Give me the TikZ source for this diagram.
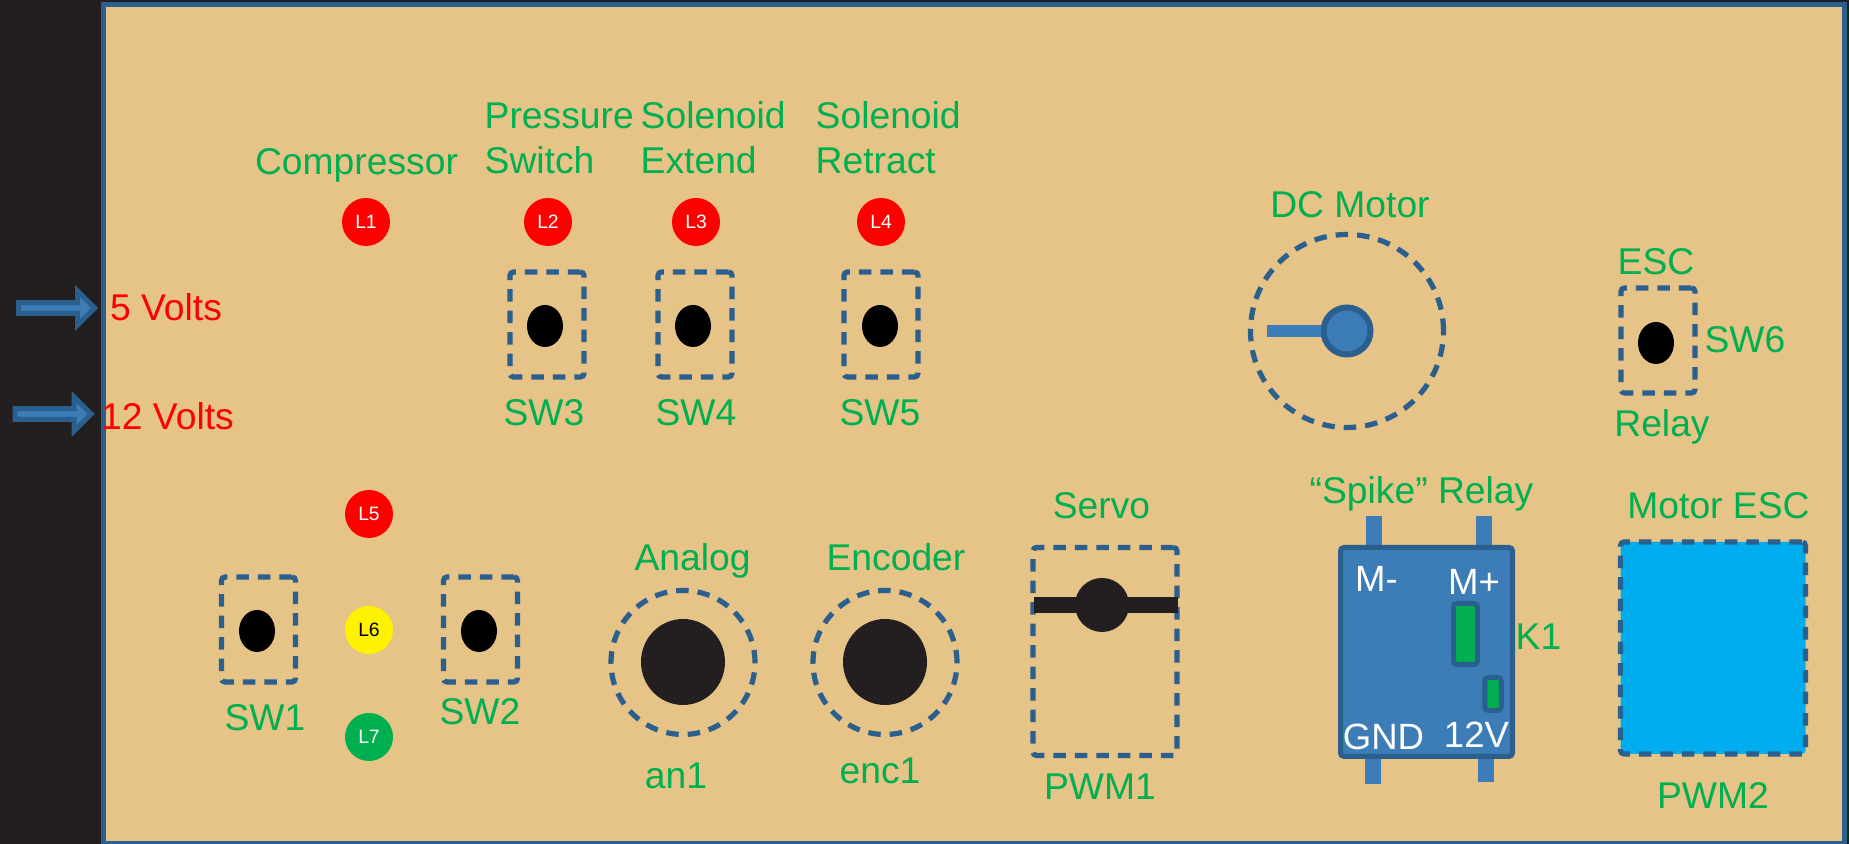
\documentclass[tikz,border=0pt]{standalone}
\usepackage{fontspec}
\setmainfont{Liberation Sans}
\usepackage{xcolor}
\usetikzlibrary{shapes.geometric, shapes.arrows}
\definecolor{panelfill}{HTML}{E6C387}
\definecolor{panelline}{HTML}{2B5F8E}
\definecolor{partblue}{HTML}{3C7DB8}
\definecolor{nearblack}{HTML}{231F20}
\definecolor{labelgreen}{HTML}{00B050}
\definecolor{escblue}{HTML}{00AEEF}
\tikzset{
  greenlabel/.style={
    anchor=base, inner sep=0pt, yshift=-0.02cm, text=labelgreen,
    font=\fontsize{10.6}{12.8}\selectfont
  },
  greenlines/.style={
    greenlabel, anchor=base west, align=left
  },
  voltlabel/.style={
    anchor=base, inner sep=0pt, yshift=-0.02cm, text=red,
    font=\fontsize{10.6}{12.8}\selectfont
  },
  relaylabel/.style={
    anchor=base, inner sep=0pt, yshift=-0.02cm, text=white,
    font=\fontsize{10.4}{12}\selectfont
  },
  lamp/.style={
    circle, minimum size=0.48cm, inner sep=0pt, text=white,
    font=\fontsize{5.5}{6}\selectfont
  },
  dashbox/.style={
    draw=panelline, line width=0.052cm, dash pattern=on 0.125cm off 0.09cm,
    rounded corners=1pt, inner sep=0pt
  },
  switchbox/.style={
    dashbox, minimum width=0.74cm, minimum height=1.05cm
  },
  switchknob/.style={
    ellipse, fill=black, minimum width=0.36cm, minimum height=0.42cm, inner sep=0pt
  },
  dashring/.style={
    circle, draw=panelline, line width=0.052cm, dash pattern=on 0.125cm off 0.09cm,
    inner sep=0pt
  },
  darkknob/.style={
    ellipse, fill=nearblack, inner sep=0pt
  },
  feedarrow/.style={
    single arrow, fill=partblue, draw=panelline, line width=0.05cm, inner sep=0pt,
    minimum width=0.34cm, minimum height=0.76cm,
    single arrow head extend=0.055cm, single arrow head indent=0pt
  },
  relaypin/.style={
    rectangle, fill=partblue, minimum width=0.16cm, inner sep=0pt
  },
  relayslot/.style={
    rectangle, fill=labelgreen, draw=panelline, line width=0.05cm,
    rounded corners=1pt, inner sep=0pt
  },
}
\begin{document}
\begin{tikzpicture}
  \useasboundingbox (0,0) rectangle (18.49,8.44);

  % Board
  \node[rectangle, fill=nearblack, minimum width=18.49cm, minimum height=8.44cm,
    inner sep=0pt] (backdrop) at (9.245, 4.22) {};
  \node[rectangle, fill=panelfill, draw=panelline, line width=0.05cm,
    minimum width=17.405cm, minimum height=8.39cm, inner sep=0pt] (panel)
    at (9.7375, 4.195) {};

  % ---- Supply feeds ----
  \node[feedarrow] (feed5) at (0.54, 5.36) {};
  \node[feedarrow] (feed12) at (0.505, 4.30) {};
  \node[voltlabel] (volts5) at (1.66, 5.25) {5 Volts};
  \node[voltlabel] (volts12) at (1.675, 4.16) {12 Volts};

  % ---- Top row ----
  \node[greenlabel] (compressor) at (3.565, 6.71) {Compressor};
  \node[greenlines] (pressure) at (4.84, 6.72) {Pressure\\Switch};
  \node[greenlines] (extend) at (6.40, 6.72) {Solenoid\\Extend};
  \node[greenlines] (retract) at (8.15, 6.72) {Solenoid\\Retract};

  \node[lamp, fill=red] (L1) at (3.66, 6.22) {L1};
  \node[lamp, fill=red] (L2) at (5.48, 6.22) {L2};
  \node[lamp, fill=red] (L3) at (6.96, 6.22) {L3};
  \node[lamp, fill=red] (L4) at (8.81, 6.22) {L4};

  \node[switchbox] (box3) at (5.47, 5.195) {};
  \node[switchbox] (box4) at (6.95, 5.195) {};
  \node[switchbox] (box5) at (8.81, 5.195) {};
  \node[switchknob] (knob3) at (5.45, 5.18) {};
  \node[switchknob] (knob4) at (6.93, 5.18) {};
  \node[switchknob] (knob5) at (8.80, 5.18) {};
  \node[greenlabel] (sw3) at (5.44, 4.20) {SW3};
  \node[greenlabel] (sw4) at (6.96, 4.20) {SW4};
  \node[greenlabel] (sw5) at (8.80, 4.20) {SW5};

  % DC motor
  \node[greenlabel] (dcmotor) at (13.50, 6.28) {DC Motor};
  \node[dashring, minimum size=1.93cm] (motorring) at (13.47, 5.13) {};
  \node[circle, fill=partblue, draw=panelline, line width=0.06cm,
    minimum size=0.47cm, inner sep=0pt] (motorhub) at (13.47, 5.13) {};
  \coordinate (armend) at (12.67, 5.13);
  \draw[partblue, line width=0.12cm] (armend) -- (motorhub);

  % ESC relay switch
  \node[greenlabel] (esc) at (16.56, 5.71) {ESC};
  \node[switchbox] (box6) at (16.58, 5.035) {};
  \node[switchknob] (knob6) at (16.56, 5.01) {};
  \node[greenlabel] (sw6) at (17.45, 4.93) {SW6};
  \node[greenlabel] (relay) at (16.62, 4.09) {Relay};

  % ---- Bottom row ----
  \node[lamp, fill=red] (L5) at (3.69, 3.30) {L5};
  \node[lamp, fill=yellow, text=black] (L6) at (3.69, 2.14) {L6};
  \node[lamp, fill=labelgreen] (L7) at (3.69, 1.07) {L7};

  \node[switchbox] (box1) at (2.585, 2.145) {};
  \node[switchbox] (box2) at (4.805, 2.145) {};
  \node[switchknob] (knob1) at (2.57, 2.13) {};
  \node[switchknob] (knob2) at (4.79, 2.13) {};
  \node[greenlabel] (sw1) at (2.65, 1.15) {SW1};
  \node[greenlabel] (sw2) at (4.80, 1.21) {SW2};

  % Analog and encoder
  \node[greenlabel] (analog) at (6.925, 2.75) {Analog};
  \node[dashring, minimum size=1.44cm] (analogring) at (6.83, 1.815) {};
  \node[darkknob, minimum width=0.84cm, minimum height=0.86cm] (analogknob) at (6.83, 1.82) {};
  \node[greenlabel] (an1) at (6.76, 0.57) {an1};
  \node[greenlabel] (encoder) at (8.96, 2.75) {Encoder};
  \node[dashring, minimum size=1.44cm] (encring) at (8.85, 1.815) {};
  \node[darkknob, minimum width=0.84cm, minimum height=0.86cm] (encknob) at (8.85, 1.82) {};
  \node[greenlabel] (enc1) at (8.80, 0.62) {enc1};

  % Servo
  \node[greenlabel] (servo) at (11.015, 3.27) {Servo};
  \node[dashbox, minimum width=1.44cm, minimum height=2.08cm] (servobox) at (11.05, 1.925) {};
  \coordinate (hornleft) at (10.34, 2.39);
  \coordinate (hornright) at (11.78, 2.39);
  \draw[nearblack, line width=0.16cm] (hornleft) -- (hornright);
  \node[darkknob, minimum size=0.54cm] (servohub) at (11.02, 2.39) {};
  \node[greenlabel] (pwm1) at (11.00, 0.46) {PWM1};

  % Spike relay
  \node[greenlabel] (spike) at (14.215, 3.42) {“Spike” Relay};
  \node[relaypin, minimum height=0.30cm] (pintop1) at (13.74, 3.13) {};
  \node[relaypin, minimum height=0.30cm] (pintop2) at (14.84, 3.13) {};
  \node[relaypin, minimum height=0.29cm] (pinbot1) at (13.73, 0.745) {};
  \node[relaypin, minimum height=0.29cm] (pinbot2) at (14.86, 0.765) {};
  \node[rectangle, fill=partblue, draw=panelline, line width=0.05cm, rounded corners=1pt,
    minimum width=1.72cm, minimum height=2.09cm, inner sep=0pt] (spikebody) at (14.265, 1.92) {};
  \node[relaylabel] (mminus) at (13.765, 2.54) {M-};
  \node[relaylabel] (mplus) at (14.74, 2.51) {M+};
  \node[relaylabel] (gnd) at (13.835, 0.96) {GND};
  \node[relaylabel] (v12) at (14.765, 0.98) {12V};
  \node[relayslot, minimum width=0.24cm, minimum height=0.61cm] (slotbig) at (14.655, 2.10) {};
  \node[relayslot, minimum width=0.165cm, minimum height=0.33cm] (slotsmall) at (14.93, 1.50) {};
  \node[greenlabel] (k1) at (15.385, 1.96) {K1};

  % Motor ESC
  \node[greenlabel] (motoresc) at (17.185, 3.27) {Motor ESC};
  \node[dashbox, fill=escblue, minimum width=1.85cm, minimum height=2.12cm] (escblock) at (17.13, 1.96) {};
  \node[greenlabel] (pwm2) at (17.13, 0.37) {PWM2};
\end{tikzpicture}
\end{document}
